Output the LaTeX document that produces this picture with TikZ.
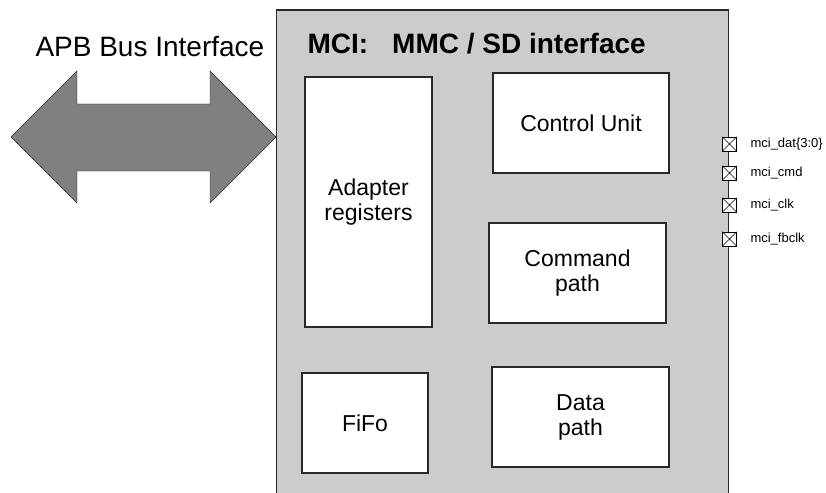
\documentclass[tikz,border=0pt]{standalone}
\usepackage{fontspec}
\setmainfont{Liberation Sans}
\usetikzlibrary{positioning}

\definecolor{mcigray}{RGB}{204,204,204}
\definecolor{busgray}{RGB}{128,128,128}
\definecolor{edgegray}{RGB}{40,40,40}

\tikzset{
  block/.style={draw=edgegray, fill=white, align=center, inner sep=0pt, line width=1.2pt,
    font=\fontsize{23}{25}\selectfont},
  pinbox/.style={draw=black, fill=white, minimum size=14pt, inner sep=0pt},
  pinlabel/.style={anchor=west, font=\fontsize{13}{15}\selectfont}
}

\begin{document}
\begin{tikzpicture}[x=1pt,y=-1pt]
\clip (0,0) rectangle (826,492);
\fill[white] (0,0) rectangle (826,492);
% the MCI block
\draw[edgegray, line width=1.2pt, fill=mcigray] (276.5,10) rectangle (728.5,520);
\node [anchor=base west, font=\fontsize{28}{30}\selectfont\bfseries] (title) at (304,54) {MCI:\hspace{24pt}MMC / SD interface};
% APB bus arrow
\draw[edgegray, fill=busgray] (11,137) -- (77,71) -- (77,104) -- (210,104) -- (210,71)
  -- (276,137) -- (210,203) -- (210,171) -- (77,171) -- (77,203) -- cycle;
\node [anchor=base west, font=\fontsize{28}{30}\selectfont] (apb) at (32,57) {APB Bus Interface};
% inner blocks
\node [block, minimum width=127pt, minimum height=250pt] (adapter) at (368.5,202) {Adapter\\registers};
\node [block, minimum width=176pt, minimum height=100pt] (control) at (581,123) {Control Unit};
\node [block, minimum width=177pt, minimum height=100pt] (command) at (577.5,273) {Command\\path};
\node [block, minimum width=126pt, minimum height=100pt] (fifo) at (365,423) {FiFo};
\node [block, minimum width=177pt, minimum height=100pt] (data) at (580.5,417) {Data\\path};
% pins
\foreach \y/\n/\t in {144/dat/mci\_dat\{3:0\}, 173/cmd/mci\_cmd, 205/clk/mci\_clk, 239/fbclk/mci\_fbclk}{
  \node [pinbox] (pin\n) at (729.5,\y) {};
  \draw (pin\n.north west) -- (pin\n.south east) (pin\n.north east) -- (pin\n.south west);
  \node [pinlabel] (lbl\n) at (747,\y) {\t};
}
\end{tikzpicture}
\end{document}
